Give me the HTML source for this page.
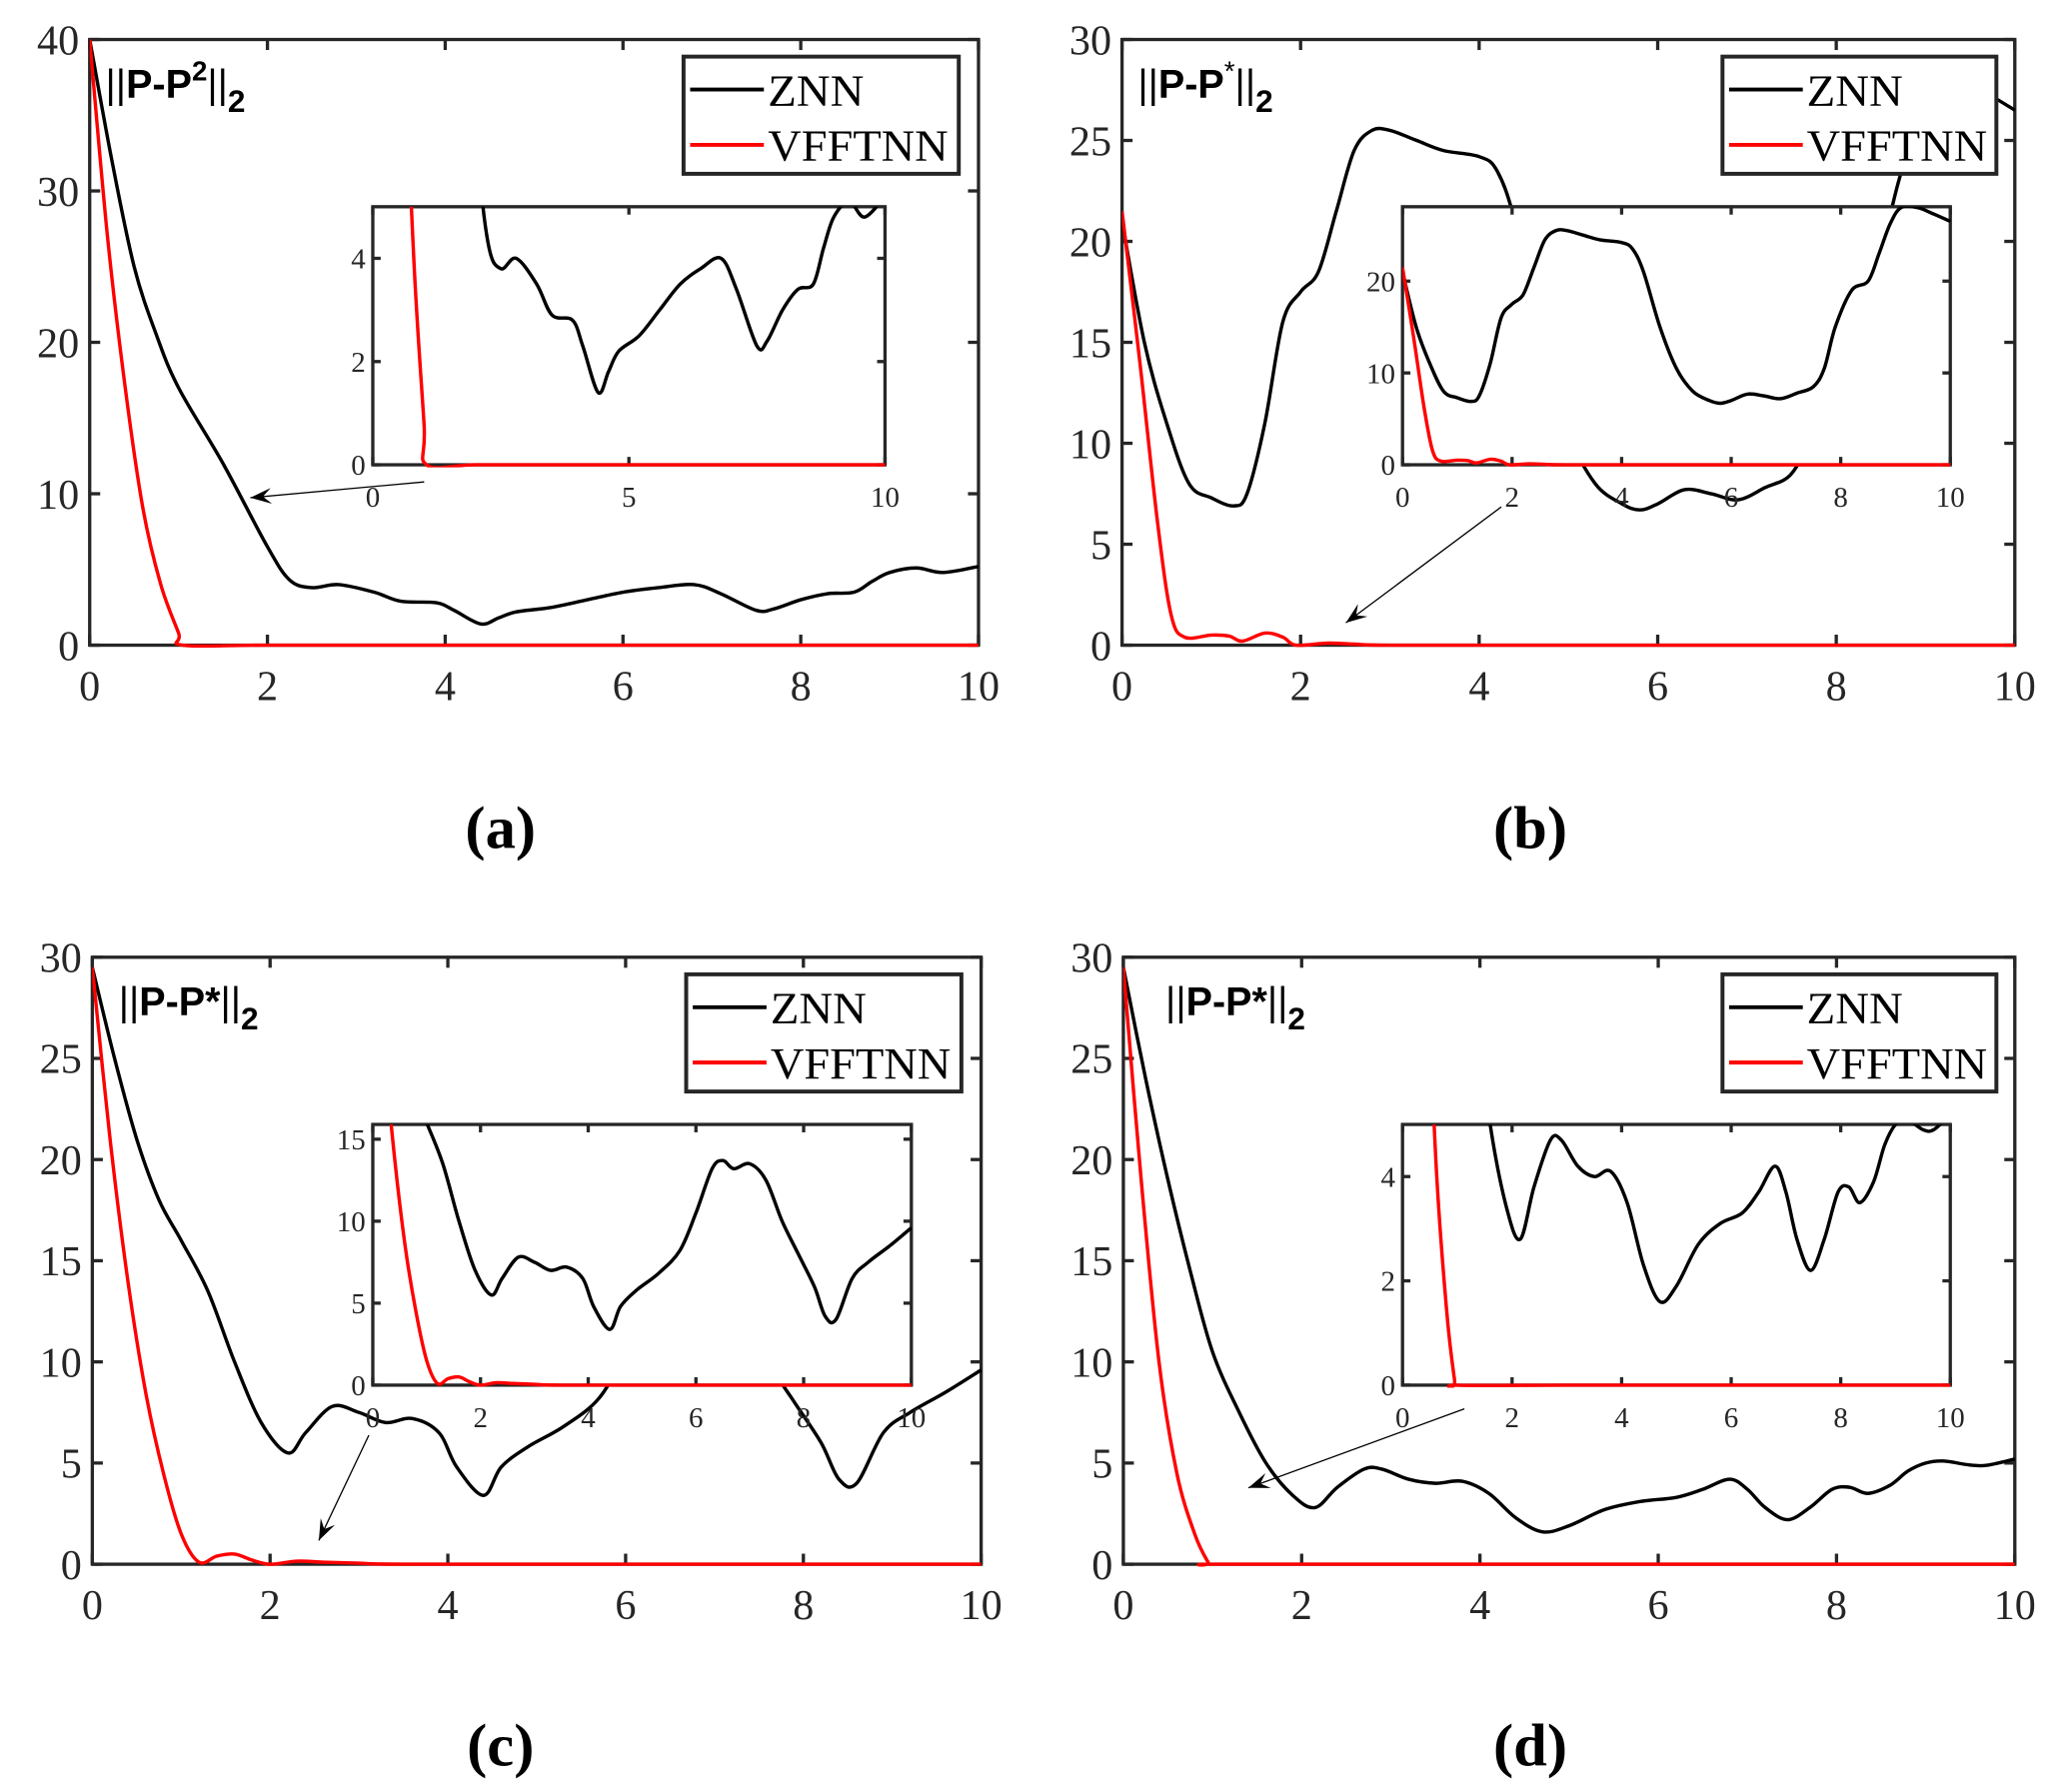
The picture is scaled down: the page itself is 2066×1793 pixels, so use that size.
<!DOCTYPE html>
<html><head><meta charset="utf-8"><style>
html,body{margin:0;padding:0;background:#fff}
svg{display:block}
</style></head><body>
<svg id="fig" xmlns="http://www.w3.org/2000/svg" width="2066" height="1793" viewBox="0 0 1568 1361">
<rect width="1568" height="1361" fill="#fff"/>
</svg>
<script>
// ---------- data ----------
const znnA_t = [0,0.25,0.5,0.75,1,1.5,2,2.25,2.5,2.8,3.2,3.5,3.9,4.1,4.4,4.6,4.8,5.2,5.6,6,6.4,6.8,7.1,7.5,7.7,8.0,8.3,8.6,8.8,9.0,9.3,9.6,10];
const znnA_v = [40,32,25,20.5,17,12,6.5,4.3,3.8,4.0,3.5,2.9,2.8,2.3,1.4,1.8,2.2,2.5,3.0,3.5,3.8,4.0,3.4,2.3,2.4,3.0,3.4,3.5,4.2,4.8,5.1,4.8,5.2];
const vfA_t = [0,0.2,0.4,0.6,0.8,1.0,1.05,2,4,6,8,10];
const vfA_v = [40,27,17,9,4,0.8,0,0,0,0,0,0];

const znnB_t = [0,0.25,0.5,0.75,1,1.25,1.4,1.6,1.8,2,2.2,2.4,2.6,2.8,3.0,3.3,3.6,4.0,4.2,4.4,4.7,5.0,5.3,5.6,5.8,6.0,6.3,6.6,6.9,7.2,7.5,7.7,7.9,8.2,8.5,8.7,8.9,9.1,9.4,9.7,10];
const znnB_v = [21,15,11,8,7.3,6.9,7.5,11,16,17.5,18.5,21.5,24.5,25.5,25.5,25.0,24.5,24.2,23.5,21,15,10.5,8,7,6.7,7.0,7.7,7.5,7.2,7.8,8.5,10.5,15,19,20,23,26.2,28,28,27.3,26.5];
const vfB_t = [0,0.2,0.4,0.55,0.7,1.0,1.2,1.35,1.6,1.8,1.95,2.3,2.6,3,5,10];
const vfB_v = [21.5,14,6,1.5,0.4,0.5,0.45,0.2,0.6,0.4,0,0.1,0.05,0,0,0];

const znnC_t = [0,0.25,0.5,0.75,1,1.3,1.6,1.9,2.2,2.4,2.7,3.0,3.3,3.6,3.9,4.1,4.4,4.6,4.9,5.3,5.7,6.0,6.3,6.5,6.7,7.0,7.3,7.6,7.9,8.2,8.4,8.6,8.9,9.2,9.6,10];
const znnC_v = [29.5,25,21,18,16,13.5,10,7,5.5,6.5,7.8,7.5,7.0,7.2,6.5,4.8,3.4,4.8,5.8,6.8,8.2,10.5,13.2,13.7,13.2,13.5,12.5,10,8,6,4.2,4.0,6.5,7.5,8.5,9.6];
const vfC_t = [0,0.2,0.4,0.6,0.8,1.0,1.2,1.4,1.6,1.8,2.0,2.3,2.6,3,3.5,6,10];
const vfC_v = [29.5,21,14,8.5,4.5,1.5,0.1,0.4,0.5,0.2,0,0.15,0.1,0.05,0,0,0];

const znnD_t = [0,0.25,0.5,0.75,1,1.3,1.6,1.9,2.15,2.4,2.7,2.9,3.2,3.5,3.8,4.1,4.4,4.7,5.0,5.4,5.8,6.2,6.5,6.8,7.0,7.2,7.45,7.7,7.95,8.15,8.35,8.6,8.8,9.0,9.2,9.5,9.7,10];
const znnD_v = [29.5,24,19,14.5,10.5,7.5,5,3.4,2.8,3.8,4.7,4.7,4.2,4.0,4.1,3.5,2.3,1.6,1.9,2.7,3.1,3.3,3.7,4.2,3.7,2.8,2.2,2.8,3.7,3.8,3.5,3.9,4.6,5.0,5.1,4.9,4.9,5.2];
const vfD_t = [0,0.2,0.4,0.6,0.8,0.95,1.0,3,6,10];
const vfD_v = [29.5,19,10,4.5,1.5,0.1,0,0,0,0];

const seriesNames = ['ZNN','VFFTNN'];
const mainYTicksA = [0,10,20,30,40];
const mainYTicks30 = [0,5,10,15,20,25,30];
const mainXTicks = [0,2,4,6,8,10];
const insetYTicksA = [0,2,4];
const insetXTicksA = [0,5,10];
const insetYTicksB = [0,10,20];
const insetYTicksC = [0,5,10,15];
const insetYTicksD = [0,2,4];
const insetXTicks2 = [0,2,4,6,8,10];
const captions = ['(a)','(b)','(c)','(d)'];

// ---------- drawing ----------
const NS='http://www.w3.org/2000/svg';
const svg=document.getElementById('fig');
let clipId=0;
function mk(tag,attrs,parent){const e=document.createElementNS(NS,tag);for(const k in attrs)e.setAttribute(k,attrs[k]);(parent||svg).appendChild(e);return e;}
function smoothPath(pts){
  let d='M'+pts[0][0].toFixed(2)+','+pts[0][1].toFixed(2);
  for(let i=0;i<pts.length-1;i++){
    const p0=pts[Math.max(0,i-1)],p1=pts[i],p2=pts[i+1],p3=pts[Math.min(pts.length-1,i+2)];
    const c1=[p1[0]+(p2[0]-p0[0])/6,p1[1]+(p2[1]-p0[1])/6];
    const c2=[p2[0]-(p3[0]-p1[0])/6,p2[1]-(p3[1]-p1[1])/6];
    d+='C'+c1[0].toFixed(2)+','+c1[1].toFixed(2)+' '+c2[0].toFixed(2)+','+c2[1].toFixed(2)+' '+p2[0].toFixed(2)+','+p2[1].toFixed(2);
  }
  return d;
}
function axes(g,box,xmax,ymax,xticks,yticks,fs,tl,name,xoff){
  const [x0,y0,x1,y1]=box;
  const sx=v=>x0+(x1-x0)*v/xmax, sy=v=>y1-(y1-y0)*v/ymax;
  return {sx,sy,draw:function(series){
    mk('rect',{x:x0,y:y0,width:x1-x0,height:y1-y0,fill:'#fff'},g);
    const ax=mk('g',{},g);
    
    
    mk('rect',{x:x0,y:y0,width:x1-x0,height:y1-y0,fill:'none',stroke:'#262626','stroke-width':2.5},ax);
    xticks.forEach(v=>{const x=sx(v);
      mk('line',{x1:x,y1:y1,x2:x,y2:y1-tl,stroke:'#262626','stroke-width':2.5},ax);
      mk('line',{x1:x,y1:y0,x2:x,y2:y0+tl,stroke:'#262626','stroke-width':2.5},ax);
      const t=mk('text',{x:x,y:y1+fs*xoff,'text-anchor':'middle','font-size':fs,'font-family':'"Liberation Serif",serif',fill:'#262626'},ax);t.textContent=v;
      
    });
    yticks.forEach(v=>{const y=sy(v);
      mk('line',{x1:x0,y1:y,x2:x0+tl,y2:y,stroke:'#262626','stroke-width':2.5},ax);
      mk('line',{x1:x1,y1:y,x2:x1-tl,y2:y,stroke:'#262626','stroke-width':2.5},ax);
      const t=mk('text',{x:x0-fs*0.25,y:y+fs*0.35,'text-anchor':'end','font-size':fs,'font-family':'"Liberation Serif",serif',fill:'#262626'},ax);t.textContent=v;
      
    });
    const cid='c'+(clipId++);
    const cp=mk('clipPath',{id:cid},g);mk('rect',{x:x0,y:y0,width:x1-x0+2,height:y1-y0+2},cp);
    const lg=mk('g',{'clip-path':'url(#'+cid+')'},g);
    series.forEach(s=>{
      const p=mk('path',{d:smoothPath(s.t.map((t,i)=>[sx(t),sy(s.v[i])])),fill:'none',stroke:s.c,'stroke-width':2.6,'stroke-linejoin':'round'},lg);
      
      
    });
  }};
}
function panel(cfg){
  const g=mk('g',{});
  
  
  const m=axes(g,cfg.box,10,cfg.ymax,mainXTicks,cfg.yticks,32,8,'main-'+cfg.id,1.3);
  m.draw([{t:cfg.zt,v:cfg.zv,c:'#000',n:'znn'},{t:cfg.vt,v:cfg.vv,c:'#ff0000',n:'vfftnn'}]);
  const tt=mk('text',{x:cfg.title[0],y:cfg.title[1],'font-family':'"Liberation Sans",sans-serif','font-size':30,fill:'#000'},g);
  
  tt.innerHTML=cfg.titleHTML;
  const [lx0,ly0,lx1,ly1]=cfg.leg;
  const lg=mk('g',{},g);
  
  mk('rect',{x:lx0,y:ly0,width:lx1-lx0,height:ly1-ly0,fill:'#fff',stroke:'#262626','stroke-width':3},lg);
  [['#000',ly0+25],['#ff0000',ly0+67]].forEach((r,i)=>{
    mk('line',{x1:lx0+5,y1:r[1],x2:lx0+61,y2:r[1],stroke:r[0],'stroke-width':3},lg);
    const t=mk('text',{x:lx0+64,y:r[1]+12,'font-family':'"Liberation Serif",serif','font-size':34,fill:'#000',textLength:i?137:73,lengthAdjust:'spacingAndGlyphs'},lg);
    t.textContent=seriesNames[i];
    
    
  });
  const [ax0,ay0,ax1,ay1]=cfg.arrow;
  const ang=Math.atan2(ay1-ay0,ax1-ax0);
  const ag=mk('g',{},g);
  
  mk('line',{x1:ax0,y1:ay0,x2:ax1,y2:ay1,stroke:'#000','stroke-width':1},ag);
  const L=16,W=6;
  const bx=ax1-L*Math.cos(ang),by=ay1-L*Math.sin(ang);
  const nx=-Math.sin(ang)*W,ny=Math.cos(ang)*W;
  const ix=ax1-L*0.6*Math.cos(ang),iy=ay1-L*0.6*Math.sin(ang);
  mk('path',{d:`M${ax1},${ay1}L${bx+nx},${by+ny}L${ix},${iy}L${bx-nx},${by-ny}Z`,fill:'#000'},ag);
  const ig=mk('g',{},g);
  
  const ins=axes(ig,cfg.ibox,10,cfg.iymax,cfg.ixticks,cfg.iyticks,22,6,'inset-'+cfg.id,1.45);
  ins.draw([{t:cfg.zt,v:cfg.zv,c:'#000',n:'znn'},{t:cfg.vt,v:cfg.vv,c:'#ff0000',n:'vfftnn'}]);
  const c=mk('text',{x:cfg.cap[0],y:cfg.cap[1],'text-anchor':'middle','font-family':'"Liberation Serif",serif','font-weight':'bold','font-size':46,fill:'#000'},g);
  c.textContent=cfg.capText;
  
}
const T2='||<tspan font-weight="bold">P-P</tspan><tspan font-weight="bold" font-size="21" dy="-13">2</tspan><tspan dy="13">||</tspan><tspan font-weight="bold" font-size="24" dy="11">2</tspan>';
const TB='||<tspan font-weight="bold">P-P</tspan><tspan font-size="21" dy="-13">*</tspan><tspan dy="13">||</tspan><tspan font-weight="bold" font-size="24" dy="11">2</tspan>';
const TC='||<tspan font-weight="bold">P-P*</tspan>||<tspan font-weight="bold" font-size="24" dy="11">2</tspan>';
panel({id:'a',box:[68,30,743,490],ymax:40,yticks:mainYTicksA,zt:znnA_t,zv:znnA_v,vt:vfA_t,vv:vfA_v,
  title:[80,74],titleHTML:T2,leg:[519,43,728,132],arrow:[322,366,190,378],
  ibox:[283,157,672,353],iymax:5,iyticks:insetYTicksA,ixticks:insetXTicksA,cap:[380,644],capText:captions[0]});
panel({id:'b',box:[852,30,1530,490],ymax:30,yticks:mainYTicks30,zt:znnB_t,zv:znnB_v,vt:vfB_t,vv:vfB_v,
  title:[864,74],titleHTML:TB,leg:[1308,43,1516,132],arrow:[1140,385,1022,473],
  ibox:[1065,157,1481,353],iymax:28.1,iyticks:insetYTicksB,ixticks:insetXTicks2,cap:[1162,644],capText:captions[1]});
panel({id:'c',box:[70,727,745,1188],ymax:30,yticks:mainYTicks30,zt:znnC_t,zv:znnC_v,vt:vfC_t,vv:vfC_v,
  title:[90,771],titleHTML:TC,leg:[521,740,730,829],arrow:[280,1090,242,1170],
  ibox:[283,854,692,1052],iymax:15.9,iyticks:insetYTicksC,ixticks:insetXTicks2,cap:[380,1341],capText:captions[2]});
panel({id:'d',box:[853,727,1530,1188],ymax:30,yticks:mainYTicks30,zt:znnD_t,zv:znnD_v,vt:vfD_t,vv:vfD_v,
  title:[885,771],titleHTML:TC,leg:[1308,740,1516,829],arrow:[1112,1070,948,1130],
  ibox:[1065,854,1481,1052],iymax:5,iyticks:insetYTicksD,ixticks:insetXTicks2,cap:[1162,1341],capText:captions[3]});
</script>
</body></html>
